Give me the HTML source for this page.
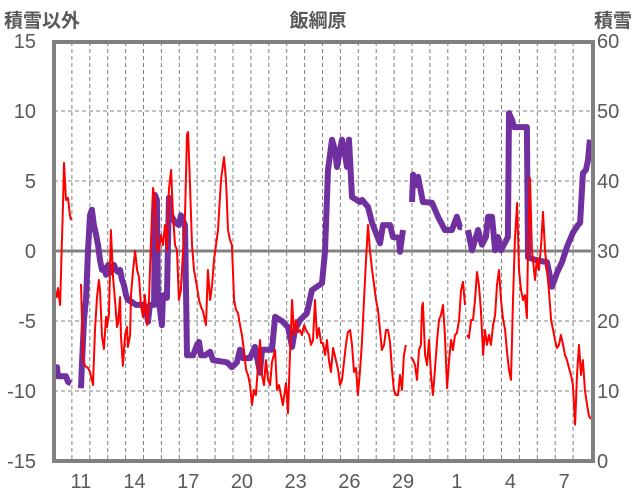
<!DOCTYPE html>
<html><head><meta charset="utf-8">
<style>
html,body{margin:0;padding:0;background:#fff;}
svg{display:block;}
text{font-family:"Liberation Sans","Noto Sans CJK JP",sans-serif;fill:#595959;}
</style></head>
<body>
<svg id="chart" width="636" height="501" viewBox="0 0 636 501" xmlns="http://www.w3.org/2000/svg">
<text x="4" y="27" font-size="19" font-weight="bold">積雪以外</text>
<text x="318" y="27" font-size="19" font-weight="bold" text-anchor="middle">飯綱原</text>
<text x="632" y="27" font-size="19" font-weight="bold" text-anchor="end">積雪</text>
<g id="grid"></g>
<g id="ticks"></g>
<g id="series"></g>
<rect x="54" y="42" width="539" height="419" fill="none" stroke="#808080" stroke-width="4"/>
</svg>
<script>
const leftTicks=[15,10,5,0,-5,-10,-15];
const rightTicks=[60,50,40,30,20,10,0];
const dayLabels=["11","14","17","20","23","26","29","1","4","7"];
const dayLabelIdx=[1,4,7,10,13,16,19,22,25,28];
const tempT=[0.06,0.17,0.22,0.34,0.45,0.50,0.56,0.67,0.78,0.89,0.95,null,1.51,1.62,1.73,1.90,2.01,2.18,2.29,2.40,2.51,2.57,2.68,2.79,2.91,2.96,3.07,3.18,3.30,3.41,3.52,3.58,3.69,3.74,3.85,3.91,3.97,4.08,4.13,4.25,4.30,4.41,4.53,4.64,4.75,4.86,4.97,5.08,5.20,5.31,5.42,5.53,5.64,5.75,5.87,5.98,6.09,6.20,6.31,6.42,6.54,6.65,6.76,6.87,6.98,7.09,7.21,7.32,7.43,7.49,7.60,7.71,7.82,7.99,8.10,8.21,8.32,8.49,8.60,8.72,8.83,8.94,9.05,9.16,9.33,9.50,9.61,9.72,9.83,9.94,10.06,10.17,10.28,10.39,10.50,10.61,10.73,10.84,10.95,11.06,11.17,11.28,11.40,11.51,11.62,11.73,11.84,11.96,12.07,12.18,12.35,12.46,12.57,12.79,12.96,13.07,13.18,13.30,13.41,13.52,13.63,13.74,13.85,13.97,14.08,14.25,14.36,14.47,14.58,14.69,14.80,14.92,15.03,15.14,15.25,15.36,15.47,15.59,15.75,15.87,15.98,16.09,16.20,16.31,16.42,16.54,16.65,16.76,16.87,16.98,17.09,17.21,17.32,17.43,17.54,17.65,17.77,17.88,17.99,18.10,18.21,18.32,18.44,18.55,18.66,18.77,18.88,18.99,19.11,19.22,19.33,19.44,19.55,19.66,null,19.94,20.06,20.17,20.28,20.39,20.50,20.56,20.61,20.73,20.84,20.95,21.06,21.17,21.28,21.40,21.51,21.62,21.73,21.84,21.96,22.07,22.18,22.29,22.40,22.51,22.63,22.74,22.85,22.96,null,23.07,23.18,23.30,23.41,23.52,23.63,23.74,23.85,23.97,24.08,24.19,24.30,24.41,24.53,24.64,24.75,24.86,24.97,25.08,25.20,25.31,25.42,25.53,25.64,25.75,25.87,25.98,26.09,26.20,26.31,26.42,26.48,26.59,26.70,26.87,26.98,27.09,27.21,27.32,27.43,27.54,27.65,27.77,27.88,27.99,28.10,28.21,28.32,28.44,28.55,28.66,28.77,28.88,28.99,29.11,29.22,29.33,29.44,29.55,29.66,29.78,29.89,30.0];
const tempV=[-2.86,-3.29,-2.64,-3.86,1.14,3.29,6.29,3.64,3.79,2.57,2.21,null,-2.36,-7.64,-8.21,-8.36,-8.64,-9.57,-5.64,-3.29,-2.07,-2.79,-6.07,-7.0,-4.71,-5.43,-4.5,1.5,-1.93,-3.5,-5.43,-5.14,-3.29,-6.0,-8.21,-7.07,-6.0,-5.43,-6.86,-6.0,-3.14,-1.5,0,-1.36,-1.86,-3.93,-4.71,-3.14,-5.29,-3.5,0.79,4.5,3.64,0.07,0.07,1.14,0.43,1.86,0.07,4.36,5.79,2.57,0.43,0.07,-3.5,-2.79,0.07,2.57,8.29,8.5,4.71,0.43,-1.36,-2.57,-3.5,-4.0,-4.29,-5.29,-1.36,-3.5,-2.43,-0.64,0.43,1.5,5.07,6.71,5.07,1.5,0.79,0.43,-3.5,-4.21,-4.43,-5.29,-6.0,-7.07,-8.5,-8.86,-9.57,-11.0,-9.93,-10.29,-8.14,-6.36,-8.86,-9.57,-7.79,-9.21,-9.57,-7.93,-7.07,-9.93,-9.57,-11.0,-9.43,-11.57,-7.57,-3.5,-6.0,-4.93,-5.79,-5.64,-6.0,-5.29,-5.64,-6.0,-6.71,-6.36,-3.5,-6.21,-5.5,-6.57,-6.57,-7.43,-6.36,-7.79,-8.64,-6.93,-7.79,-8.5,-9.57,-9.21,-7.93,-6.71,-5.79,-5.64,-6.71,-8.64,-8.36,-10.29,-8.64,-6.36,-3.5,-0.64,1.86,0.07,-1.36,-2.43,-3.5,-4.21,-5.64,-7.07,-6.71,-5.64,-5.64,-6.5,-8.5,-9.93,-10.29,-10.29,-8.86,-9.93,-7.43,-6.71,null,-7.57,-7.79,-8.14,-9.21,-7.07,-6.71,-4.0,-3.71,-7.43,-8.14,-6.36,-8.86,-10.29,-8.5,-6.36,-4.93,-4.57,-3.86,-6.0,-9.79,-7.79,-6.36,-7.07,-6.0,-5.86,-4.93,-2.79,-2.21,-3.86,null,-6.0,-6.21,-4.93,-4.93,-3.5,-1.5,-2.43,-4.21,-7.43,-5.64,-6.71,-6.0,-6.71,-5.29,-4.57,-2.43,-1.36,-3.5,-4.79,-5.64,-7.21,-8.5,-9.21,-3.5,0.79,3.43,-1.36,-2.79,-3.5,-3.14,-4.79,0.07,5.21,0.07,-2.07,-0.5,-1.36,0.43,2.79,0.07,-1.36,-2.79,-4.93,-5.64,-6.36,-6.93,-6.71,-6.0,-6.71,-7.43,-7.79,-8.36,-8.86,-9.57,-12.4,-8.86,-6.71,-8.86,-7.79,-9.93,-11.0,-11.79,-12.0];
const snowT=[0.06,0.17,0.22,0.67,0.78,0.95,null,1.51,1.56,1.68,1.79,1.90,2.01,2.12,2.23,2.35,2.46,2.57,2.68,2.79,2.91,3.02,3.13,3.24,3.35,3.46,3.58,3.69,3.80,3.91,4.02,4.13,4.36,4.58,4.80,5.03,5.14,5.25,5.36,5.59,5.64,5.75,5.81,5.92,6.03,6.09,6.31,6.42,6.54,6.76,6.98,7.09,7.32,7.43,7.77,7.99,8.10,8.21,8.44,8.72,8.88,9.66,9.94,10.22,10.39,10.56,10.95,11.23,11.51,11.62,12.18,12.35,12.79,13.07,13.30,13.46,13.74,14.13,14.41,14.97,15.14,15.31,15.53,15.70,15.81,16.09,16.26,16.37,16.48,16.65,17.09,17.21,17.54,17.77,18.21,18.38,18.77,18.94,19.27,19.33,19.50,null,20.0,20.06,20.22,20.34,20.61,21.12,21.45,21.84,22.23,22.51,22.68,22.79,null,23.13,23.35,23.69,23.91,24.13,24.25,24.47,24.64,24.80,24.97,25.36,25.42,25.59,25.70,26.09,26.42,26.48,26.93,27.54,27.82,28.10,28.38,28.66,28.99,29.27,29.39,29.55,29.72,29.83,29.94];
const snowV=[12.7,13.4,12.1,12.1,11.3,11.1,null,10.4,13.7,20.4,23.0,30.1,35.1,35.9,33.7,32.3,30.9,28.7,27.3,27.6,26.6,28.0,26.9,27.3,28.0,27.3,27.0,27.3,25.9,25.1,23.7,23.0,22.7,22.3,22.3,22.3,21.6,19.9,22.3,22.3,38.0,37.3,23.0,21.6,19.4,23.7,23.3,37.6,35.1,34.1,33.7,35.1,33.7,15.1,15.1,16.6,17.0,15.1,15.1,15.6,14.4,14.1,13.4,14.1,15.9,14.7,14.7,16.3,12.6,15.9,15.9,20.6,19.9,19.1,16.3,18.7,20.1,21.1,24.4,25.4,29.9,41.6,45.9,44.4,42.0,45.9,43.7,42.0,45.9,37.7,37.0,37.3,36.3,34.0,31.1,33.7,33.7,32.0,31.9,29.9,33.0,null,37.0,40.9,39.4,40.6,37.0,36.9,34.9,33.0,33.0,34.9,33.4,33.4,null,33.0,30.1,33.0,30.9,32.0,34.9,34.9,30.1,32.0,30.1,32.0,49.7,48.7,47.7,47.7,47.7,29.1,28.7,28.4,24.9,26.9,28.4,30.6,32.6,33.7,34.0,41.1,41.6,43.0,45.9];

const NS="http://www.w3.org/2000/svg";
const X0=54,DX=17.9;
function xScale(t){return X0+DX*t;}
function yLeft(v){return 251-14*v;}
function yRight(s){return 461-7*s;}
function mk(tag,attrs,parent){const e=document.createElementNS(NS,tag);for(const k in attrs)e.setAttribute(k,attrs[k]);parent.appendChild(e);return e;}
const grid=document.getElementById('grid'),ticks=document.getElementById('ticks'),series=document.getElementById('series');
for(let d=1;d<30;d++){
  const l=mk('line',{x1:xScale(d),x2:xScale(d),y1:42,y2:461,stroke:'#808080','stroke-width':1,'stroke-dasharray':'4,3'},grid);
  
  
}
leftTicks.forEach((v,i)=>{
  const y=yLeft(v);
  if(v!==15&&v!==-15){
    const l=mk('line',{x1:54,x2:593,y1:y,y2:y,stroke:'#808080','stroke-width':v===0?3:1,'stroke-dasharray':v===0?'none':'4,3'},grid);
    
    
  }
  const t=mk('text',{x:36,y:y+7,'font-size':20,'text-anchor':'end'},ticks);t.textContent=v;
  
  
});
rightTicks.forEach(s=>{
  const t=mk('text',{x:597,y:yRight(s)+7,'font-size':20},ticks);t.textContent=s;
  
  
});
dayLabels.forEach((lab,i)=>{
  const t=mk('text',{x:xScale(dayLabelIdx[i]+0.5),y:488,'font-size':20,'text-anchor':'middle'},ticks);t.textContent=lab;
  
  
});
function pathD(ts,vs,ys){let d='',pen=false;for(let i=0;i<ts.length;i++){if(ts[i]===null||vs[i]===null){pen=false;continue;}d+=(pen?'L':'M')+xScale(ts[i]).toFixed(1)+' '+ys(vs[i]).toFixed(1);pen=true;}return d;}
const sp=mk('path',{d:pathD(snowT,snowV,yRight),fill:'none',stroke:'#7030A0','stroke-width':6,'stroke-linejoin':'round'},series);


const tp=mk('path',{d:pathD(tempT,tempV,yLeft),fill:'none',stroke:'#FF0000','stroke-width':2,'stroke-linejoin':'round'},series);


</script>
</body></html>
